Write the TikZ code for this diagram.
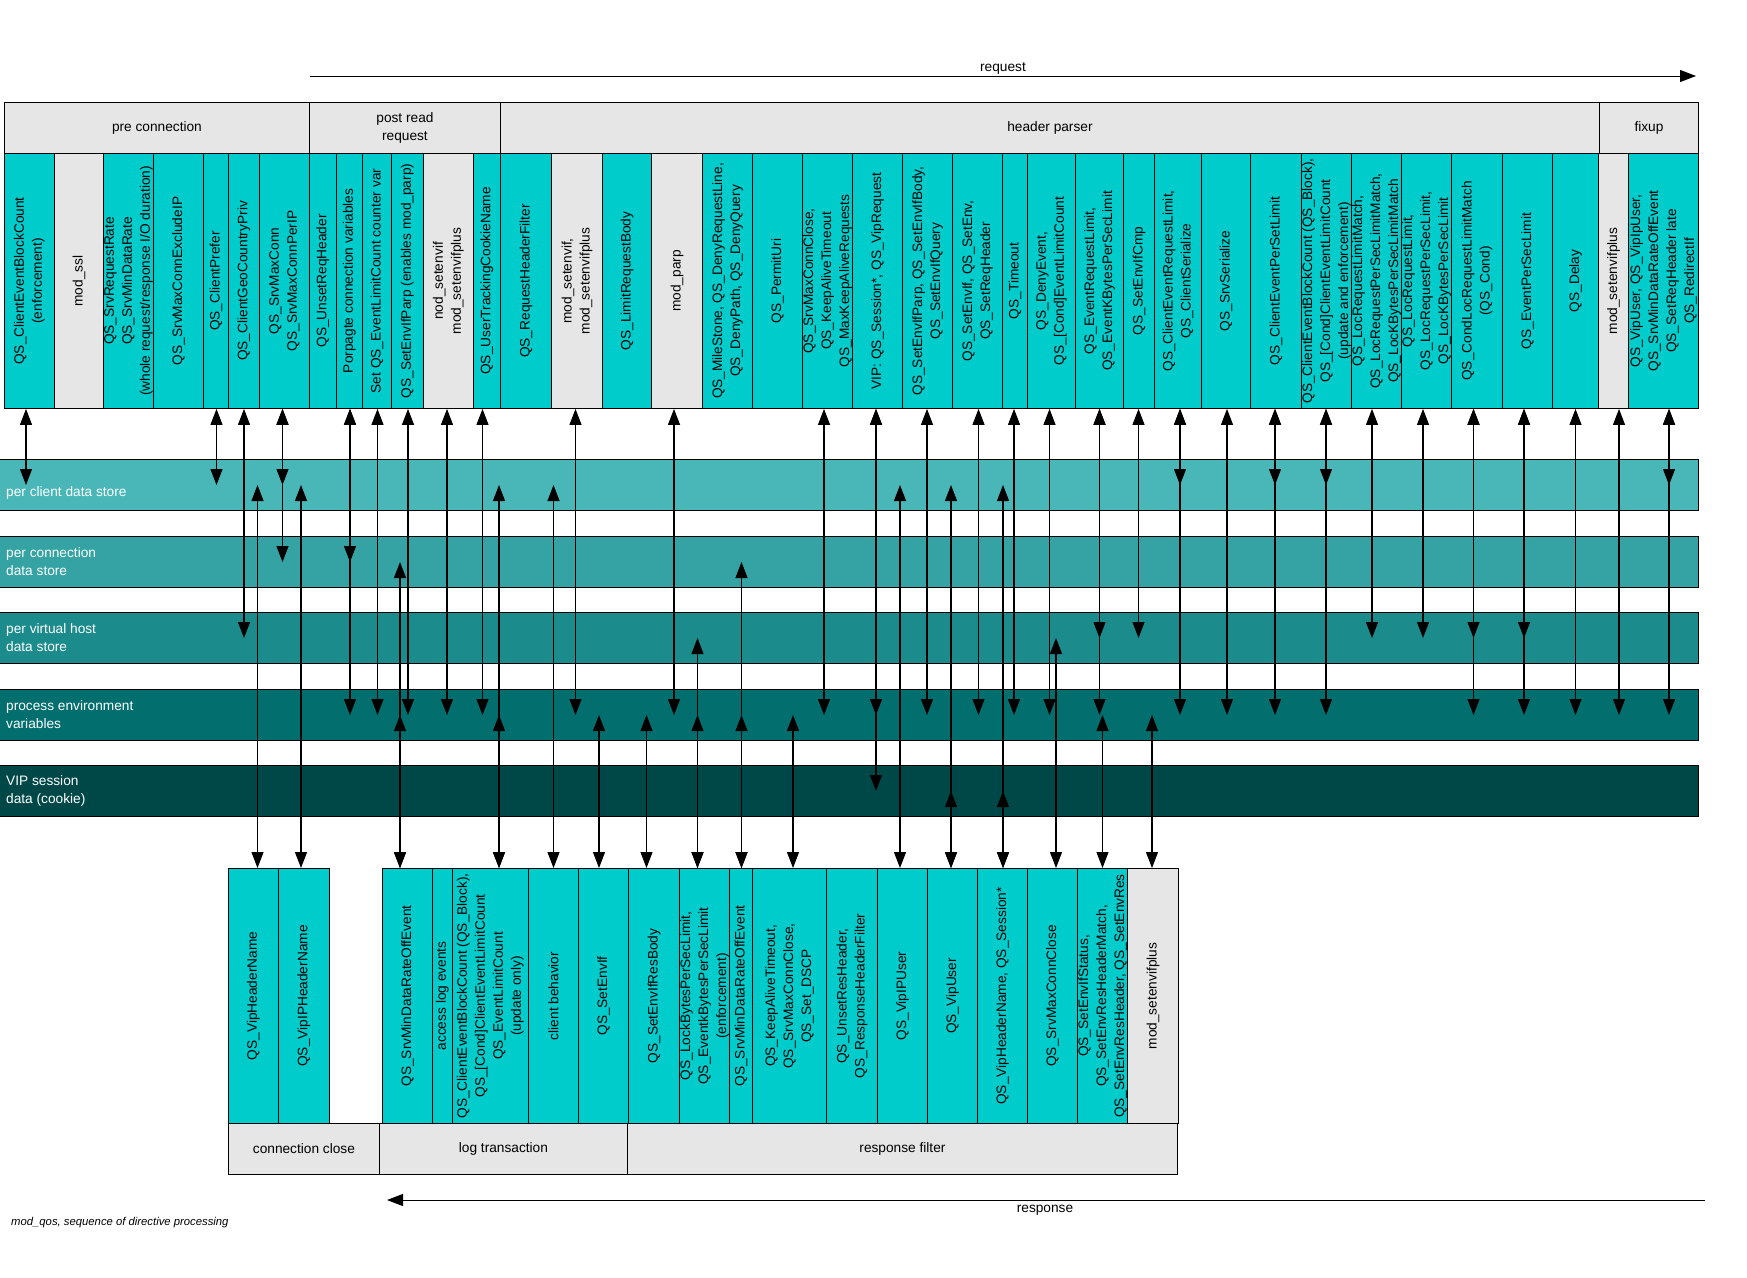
\documentclass[tikz,border=0pt]{standalone}
\usepackage{fontspec}
\setmainfont{Liberation Sans}
\usetikzlibrary{arrows.meta}
\definecolor{colcyan}{RGB}{0,204,204}
\definecolor{colgray}{RGB}{230,230,230}
\definecolor{laneA}{RGB}{73,183,183}
\definecolor{laneB}{RGB}{53,163,163}
\definecolor{laneC}{RGB}{27,139,139}
\definecolor{laneD}{RGB}{2,110,110}
\definecolor{laneE}{RGB}{0,72,72}
\newcommand\fsz{\fontsize{13.7pt}{18pt}\selectfont}
\newcommand\mkcol[6]{%
  \node[#5, minimum width={#3-#2}, minimum height=255, anchor=north west] (#1) at (#2,#4) {};
  \node[coltext] (#1t) at (#1.center) {#6};}
\newcommand\mkhdr[5]{%
  \node[hdrbox, minimum width={#3-#2}, minimum height=51, anchor=north west] (#1) at (#2,#4) {};
  \node[hdrtext] (#1t) at (#1.center) {#5};}
\newcommand\mklane[5]{%
  \node[lanebox, fill=#3, anchor=north west] (#1) at (-1,#2) {};
  \node[lanetext] (#1t) at ([xshift=7pt,yshift=#4]#1.west) {#5};}
\begin{document}
\begin{tikzpicture}[x=1pt,y=-1pt,
  cyanbox/.style={draw=black, line width=0.9pt, fill=colcyan, inner sep=0pt},
  graybox/.style={draw=black, line width=0.9pt, fill=colgray, inner sep=0pt},
  coltext/.style={rotate=90, align=center, font=\fsz, inner sep=0pt, text=black},
  hdrbox/.style={draw=black, line width=0.9pt, fill=colgray, inner sep=0pt},
  hdrtext/.style={align=center, font=\fsz, inner sep=0pt},
  lanebox/.style={draw=black, line width=1pt, minimum width=1699, minimum height=51, inner sep=0pt},
  lanetext/.style={anchor=west, align=left, font=\fsz, text=white, inner sep=0pt},
  biarr/.style={{Triangle[length=16pt,width=12pt]}-{Triangle[length=16pt,width=12pt]}, line width=1.1pt},
  onearr/.style={-{Triangle[length=16pt,width=12pt]}, line width=1pt},
  plainlbl/.style={font=\fsz, inner sep=0pt}
]
\useasboundingbox (0,0) rectangle (1747,1277);
\fill[white] (0,0) rectangle (1747,1277);

% lanes
\mklane{lc}{459}{laneA}{-8pt}{per client data store}
\mklane{lcn}{536}{laneB}{0pt}{per connection\\data store}
\mklane{lvh}{612}{laneC}{0pt}{per virtual host\\data store}
\mklane{lpe}{689}{laneD}{0pt}{process environment\\variables}
\mklane{lvip}{765}{laneE}{0pt}{VIP session\\data (cookie)}

% top headers
\mkhdr{hpre}{4}{309}{102}{pre connection}
\mkhdr{hpost}{309}{500}{102}{post read\\request}
\mkhdr{hhp}{500}{1599}{102}{header parser}
\mkhdr{hfix}{1599}{1698}{102}{fixup}

% top columns
\mkcol{t1}{4}{54}{153}{cyanbox}{QS\_ClientEventBlockCount\\(enforcement)}
\mkcol{t2}{54}{103}{153}{graybox}{mod\_ssl}
\mkcol{t3}{103}{153}{153}{cyanbox}{QS\_SrvRequestRate\\QS\_SrvMinDataRate\\(whole request/response I/O duration)}
\mkcol{t4}{153}{203}{153}{cyanbox}{QS\_SrvMaxConnExcludeIP}
\mkcol{t5}{203}{228}{153}{cyanbox}{QS\_ClientPrefer}
\mkcol{t6}{228}{259}{153}{cyanbox}{QS\_ClientGeoCountryPriv}
\mkcol{t7}{259}{309}{153}{cyanbox}{QS\_SrvMaxConn\\QS\_SrvMaxConnPerIP}
\mkcol{t8}{309}{336}{153}{cyanbox}{QS\_UnsetReqHeader}
\mkcol{t9}{336}{362}{153}{cyanbox}{Porpagte connection variables}
\mkcol{t10}{362}{391}{153}{cyanbox}{Set QS\_EventLimitCount counter var}
\mkcol{t11}{391}{423}{153}{cyanbox}{QS\_SetEnvIfParp (enables mod\_parp)}
\mkcol{t12}{423}{473}{153}{graybox}{nod\_setenvif\\mod\_setenvifplus}
\mkcol{t13}{473}{500}{153}{cyanbox}{QS\_UserTrackingCookieName}
\mkcol{t14}{500}{551}{153}{cyanbox}{QS\_RequestHeaderFilter}
\mkcol{t15}{551}{602}{153}{graybox}{mod\_setenvif,\\mod\_setenvifplus}
\mkcol{t16}{602}{651}{153}{cyanbox}{QS\_LimitRequestBody}
\mkcol{t17}{651}{702}{153}{graybox}{mod\_parp}
\mkcol{t18}{702}{752}{153}{cyanbox}{QS\_MileStone, QS\_DenyRequestLine,\\QS\_DenyPath, QS\_DenyQuery}
\mkcol{t19}{752}{802}{153}{cyanbox}{QS\_PermitUri}
\mkcol{t20}{802}{852}{153}{cyanbox}{QS\_SrvMaxConnClose,\\QS\_KeepAliveTimeout\\QS\_MaxKeepAliveRequests}
\mkcol{t21}{852}{902}{153}{cyanbox}{VIP: QS\_Session*, QS\_VipRequest}
\mkcol{t22}{902}{952}{153}{cyanbox}{QS\_SetEnvIfParp, QS\_SetEnvIfBody,\\QS\_SetEnvIfQuery}
\mkcol{t23}{952}{1002}{153}{cyanbox}{QS\_SetEnvIf, QS\_SetEnv,\\QS\_SetReqHeader}
\mkcol{t24}{1002}{1027}{153}{cyanbox}{QS\_Timeout}
\mkcol{t25}{1027}{1075}{153}{cyanbox}{QS\_DenyEvent,\\QS\_[Cond]EventLimitCount}
\mkcol{t26}{1075}{1123}{153}{cyanbox}{QS\_EventRequestLimit,\\QS\_EventKBytesPerSecLimit}
\mkcol{t27}{1123}{1154}{153}{cyanbox}{QS\_SetEnvIfCmp}
\mkcol{t28}{1154}{1201}{153}{cyanbox}{QS\_ClientEventRequestLimit,\\QS\_ClientSerialize}
\mkcol{t29}{1201}{1250}{153}{cyanbox}{QS\_SrvSerialize}
\mkcol{t30}{1250}{1301}{153}{cyanbox}{QS\_ClientEventPerSetLimit}
\mkcol{t31}{1301}{1351}{153}{cyanbox}{QS\_ClientEventBlockCount (QS\_Block),\\QS\_[Cond]ClientEventLimitCount\\(update and enforcement)}
\mkcol{t32}{1351}{1401}{153}{cyanbox}{QS\_LocRequestLimitMatch,\\QS\_LocRequestPerSecLimitMatch,\\QS\_LocKBytesPerSecLimitMatch}
\mkcol{t33}{1401}{1451}{153}{cyanbox}{QS\_LocRequestLimit,\\QS\_LocRequestPerSecLimit,\\QS\_LocKBytesPerSecLimit}
\mkcol{t34}{1451}{1502}{153}{cyanbox}{QS\_CondLocRequestLimitMatch\\(QS\_Cond)}
\mkcol{t35}{1502}{1552}{153}{cyanbox}{QS\_EventPerSecLimit}
\mkcol{t36}{1552}{1598}{153}{cyanbox}{QS\_Delay}
\mkcol{t37}{1598}{1628}{153}{graybox}{mod\_setenvifplus}
\mkcol{t38}{1628}{1698}{153}{cyanbox}{QS\_VipUser, QS\_VipIpUser,\\QS\_SrvMinDataRateOffEvent\\QS\_SetReqHeader late\\QS\_RedirectIf}

% bottom columns
\mkcol{b1}{228}{278}{868}{cyanbox}{QS\_VipHeaderName}
\mkcol{b2}{278}{329}{868}{cyanbox}{QS\_VipIPHeaderName}
\mkcol{b3}{382}{432}{868}{cyanbox}{QS\_SrvMinDataRateOffEvent}
\mkcol{b4}{432}{452}{868}{cyanbox}{access log events}
\mkcol{b5}{452}{528}{868}{cyanbox}{QS\_ClientEventBlockCount (QS\_Block),\\QS\_[Cond]ClientEventLimitCount\\QS\_EventLimitCount\\(update only)}
\mkcol{b6}{528}{578}{868}{cyanbox}{client behavior}
\mkcol{b7}{578}{628}{868}{cyanbox}{QS\_SetEnvIf}
\mkcol{b8}{628}{679}{868}{cyanbox}{QS\_SetEnvIfResBody}
\mkcol{b9}{679}{729}{868}{cyanbox}{QS\_LockBytesPerSecLimit,\\QS\_EventkBytesPerSecLimit\\(enforcement)}
\mkcol{b10}{729}{752}{868}{cyanbox}{QS\_SrvMinDataRateOffEvent}
\mkcol{b11}{752}{826}{868}{cyanbox}{QS\_KeepAliveTimeout,\\QS\_SrvMaxConnClose,\\QS\_Set\_DSCP}
\mkcol{b12}{826}{877}{868}{cyanbox}{QS\_UnsetResHeader,\\QS\_ResponseHeaderFilter}
\mkcol{b13}{877}{927}{868}{cyanbox}{QS\_VipIPUser}
\mkcol{b14}{927}{977}{868}{cyanbox}{QS\_VipUser}
\mkcol{b15}{977}{1027}{868}{cyanbox}{QS\_VipHeaderName, QS\_Session*}
\mkcol{b16}{1027}{1077}{868}{cyanbox}{QS\_SrvMaxConnClose}
\mkcol{b17}{1077}{1127}{868}{cyanbox}{QS\_SetEnvIfStatus,\\QS\_SetEnvResHeaderMatch,\\QS\_SetEnvResHeader, QS\_SetEnvRes}
\mkcol{b18}{1127}{1178}{868}{graybox}{mod\_setenvifplus}

% bottom headers
\mkhdr{hcc}{228}{379}{1123}{connection close}
\mkhdr{hlt}{379}{627}{1123}{log transaction}
\mkhdr{hrf}{627}{1177}{1123}{response filter}

% top connectors
\foreach \src/\xp/\dst in {t1/26/lc, t5/216.5/lc, t6/244/lvh, t7/282.5/lc, t7/282.5/lcn,
  t9/350/lcn, t9/350/lpe, t10/377.5/lpe, t11/408/lpe, t12/447/lpe, t13/482.5/lpe,
  t15/575.5/lpe, t17/674/lpe, t20/824/lpe, t21/876/lpe, t21/876/lvip, t22/927/lpe,
  t23/978.5/lpe, t24/1014/lpe, t25/1049.5/lpe, t26/1099.5/lvh, t26/1099.5/lpe,
  t27/1138.5/lvh, t28/1180/lc, t28/1180/lpe, t29/1227/lpe, t30/1275/lc, t30/1275/lpe,
  t31/1326/lc, t31/1326/lpe, t32/1372/lvh, t33/1423/lvh, t34/1473.5/lvh, t34/1473.5/lpe,
  t35/1524/lvh, t35/1524/lpe, t36/1575.5/lpe, t37/1619/lpe, t38/1669/lc, t38/1669/lpe}{
  \coordinate (ax) at (\xp,0);
  \draw[biarr] (\src.south -| ax) -- (ax |- \dst.center);
}
% bottom connectors
\foreach \src/\xp/\dst in {b1/257.5/lc, b2/301/lc, b3/400/lcn, b3/400/lpe, b5/499/lc, b5/499/lpe,
  b6/553.5/lc, b7/599/lpe, b8/646.5/lpe, b9/697.5/lvh, b9/697.5/lpe, b10/741.5/lcn, b10/741.5/lpe,
  b11/793/lpe, b13/900/lc, b14/951/lc, b14/951/lvip, b15/1003/lc, b15/1003/lvip,
  b16/1056/lvh, b17/1102.5/lpe, b18/1152/lpe}{
  \coordinate (ax) at (\xp,0);
  \draw[biarr] (\src.north -| ax) -- (ax |- \dst.center);
}

% request / response arrows
\coordinate (reqa) at (310,76);
\coordinate (reqb) at (1696,76);
\draw[onearr] (reqa) -- (reqb);
\node[plainlbl, anchor=base] (reqlbl) at (1003,71) {request};
\coordinate (resa) at (1705,1200);
\coordinate (resb) at (387,1200);
\draw[onearr] (resa) -- (resb);
\node[plainlbl, anchor=base] (reslbl) at (1045,1212) {response};

\node[anchor=base west, font=\fontsize{11.3pt}{13pt}\selectfont\itshape, inner sep=0pt] (cap) at (11,1225) {mod\_qos, sequence of directive processing};
\end{tikzpicture}
\end{document}
